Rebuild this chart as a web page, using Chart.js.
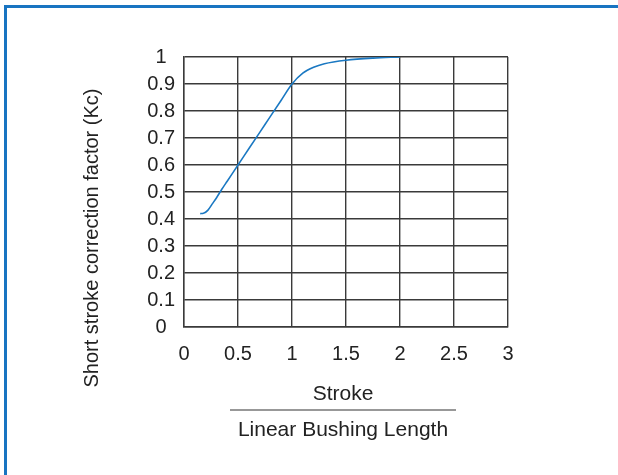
<!DOCTYPE html>
<html>
<head>
<meta charset="utf-8">
<script src="https://cdn.jsdelivr.net/npm/chart.js@4/dist/chart.umd.min.js"></script>
<style>
  html, body { margin: 0; padding: 0; background: #fff; }
  #wrap { position: relative; width: 618px; height: 475px; }
  #frame { position: absolute; left: 4px; top: 5px; right: 0; bottom: 0;
           border-top: 3px solid #1874c1; border-left: 3px solid #1874c1; pointer-events: none; }
</style>
</head>
<body>
<div id="wrap">
  <canvas id="chart" width="618" height="475"></canvas>
  <div id="frame"></div>
</div>
<script>
// stroke / bushing length ratio
const strokeRatio = [0.15, 0.18, 0.22, 0.26, 0.3, 0.35, 0.4, 0.5, 0.6, 0.7, 0.8, 0.9, 1.0, 1.1, 1.2, 1.3, 1.5, 1.75, 2.0];
// short stroke correction factor Kc
const kcValues    = [0.42, 0.421, 0.432, 0.455, 0.478, 0.51, 0.54, 0.6, 0.66, 0.72, 0.78, 0.84, 0.9, 0.94, 0.962, 0.975, 0.988, 0.996, 1.0];

const xTicks = [0, 0.5, 1, 1.5, 2, 2.5, 3];
const yTicks = [0, 0.1, 0.2, 0.3, 0.4, 0.5, 0.6, 0.7, 0.8, 0.9, 1];

const yTitle = 'Short stroke correction factor (Kc)';
const xTitleTop = 'Stroke';
const xTitleBottom = 'Linear Bushing Length';

const FONT = "'Liberation Sans', Arial, sans-serif";
const TEXT = '#222';
const GRID = '#3a3a3a';

const titles = {
  id: 'titles',
  afterDraw(chart) {
    const ctx = chart.ctx;
    ctx.save();
    ctx.fillStyle = TEXT;
    ctx.font = '20px ' + FONT;
    ctx.textAlign = 'center';
    ctx.textBaseline = 'middle';
    // rotated y title
    ctx.save();
    ctx.translate(92, 238);
    ctx.rotate(-Math.PI / 2);
    ctx.fillText(yTitle, 0, 0);
    ctx.restore();
    // fraction style x title
    ctx.font = '21px ' + FONT;
    ctx.fillText(xTitleTop, 343, 394);
    ctx.fillText(xTitleBottom, 343, 430);
    ctx.strokeStyle = '#333';
    ctx.lineWidth = 1.2;
    ctx.beginPath();
    ctx.moveTo(230, 410);
    ctx.lineTo(456, 410);
    ctx.stroke();
    ctx.restore();
  }
};

new Chart(document.getElementById('chart'), {
  type: 'line',
  data: {
    datasets: [{
      data: strokeRatio.map((x, i) => ({ x: x, y: kcValues[i] })),
      borderColor: '#1a78c2',
      borderWidth: 1.6,
      pointRadius: 0,
      cubicInterpolationMode: 'monotone',
      fill: false
    }]
  },
  options: {
    responsive: false,
    animation: false,
    layout: { padding: { left: 0, right: 110, top: 57, bottom: 0 } },
    plugins: { legend: { display: false }, tooltip: { enabled: false } },
    scales: {
      x: {
        type: 'linear',
        min: 0, max: 3,
        afterBuildTicks: s => { s.ticks = xTicks.map(v => ({ value: v })); },
        afterFit: s => { s.height = 148; },
        grid: { color: GRID, lineWidth: 1.4, drawTicks: false },
        border: { color: GRID, width: 1.4 },
        ticks: { color: TEXT, font: { family: FONT, size: 20 }, padding: 15, maxRotation: 0,
                 callback: v => String(v) }
      },
      y: {
        min: 0, max: 1,
        afterBuildTicks: s => { s.ticks = yTicks.map(v => ({ value: v })); },
        afterFit: s => { s.width = 184; },
        grid: { color: GRID, lineWidth: 1.4, drawTicks: false },
        border: { color: GRID, width: 1.4 },
        ticks: { color: TEXT, font: { family: FONT, size: 20 }, padding: 9, crossAlign: 'center',
                 callback: v => String(v) }
      }
    }
  },
  plugins: [titles]
});
</script>
</body>
</html>
